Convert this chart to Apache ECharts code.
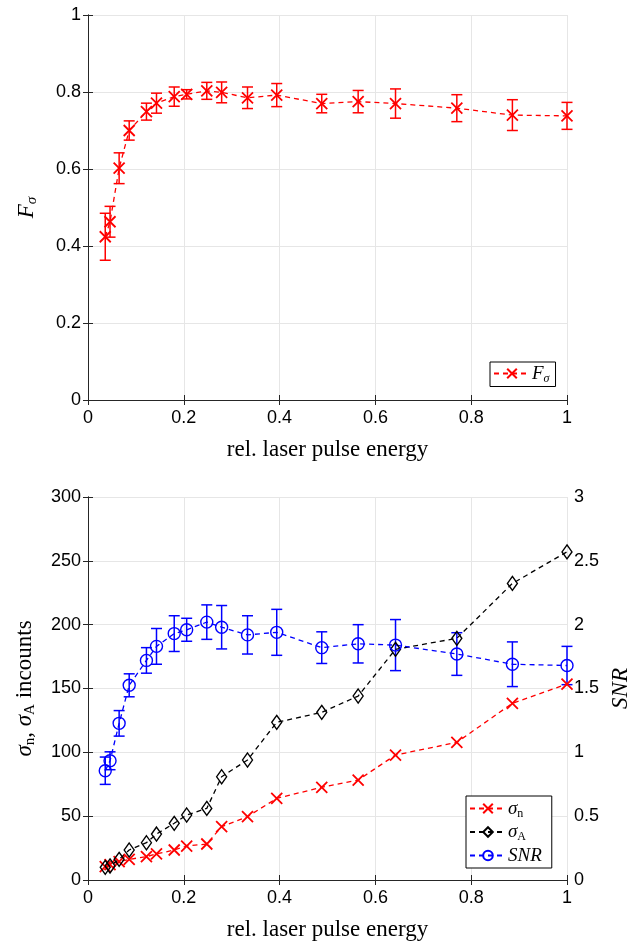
<!DOCTYPE html>
<html>
<head>
<meta charset="utf-8">
<script src="https://cdn.jsdelivr.net/npm/echarts@6/dist/echarts.min.js"></script>
<style>
  html, body { margin: 0; padding: 0; background: #fff; }
  #chart { width: 634px; height: 943px; }
</style>
</head>
<body>
<div id="chart"></div>
<script>
// relative laser pulse energy (shared by both panels)
var energy = [0.036, 0.046, 0.065, 0.086, 0.122, 0.143, 0.180, 0.206, 0.248, 0.279, 0.333, 0.394, 0.488, 0.564, 0.642, 0.770, 0.886, 1.0];

// top panel
var fSigma    = [0.424, 0.463, 0.602, 0.700, 0.749, 0.771, 0.788, 0.794, 0.803, 0.799, 0.785, 0.792, 0.770, 0.775, 0.770, 0.758, 0.740, 0.738];
var fSigmaErr = [0.061, 0.040, 0.040, 0.025, 0.022, 0.026, 0.025, 0.012, 0.022, 0.027, 0.028, 0.030, 0.024, 0.029, 0.038, 0.035, 0.040, 0.035];

// bottom panel
var sigmaN = [10.5, 12, 14.4, 16.2, 18.3, 20.4, 23.5, 26.6, 28.2, 41.8, 49.6, 64, 72.6, 78.3, 97.9, 107.8, 138.4, 153.5];
var sigmaA = [9.9, 11, 16.2, 23.5, 29.2, 36, 44.4, 50.9, 56.1, 80.9, 94, 123.5, 131.3, 144.1, 180.7, 189.3, 232.3, 257];
var snr    = [0.856, 0.934, 1.227, 1.525, 1.72, 1.83, 1.93, 1.96, 2.02, 1.98, 1.92, 1.94, 1.82, 1.85, 1.84, 1.77, 1.69, 1.68];
var snrErr = [0.107, 0.07, 0.10, 0.09, 0.10, 0.14, 0.14, 0.09, 0.135, 0.17, 0.15, 0.18, 0.124, 0.15, 0.20, 0.167, 0.175, 0.15];

var axisCol = '#262626';
var gridCol = '#e6e6e6';
var tickFont = 'Liberation Sans';
var serif = 'Liberation Serif';

var xMark = 'path://M0,0L10,10M10,0L0,10';

var rich = {
  i: { fontFamily: serif, fontStyle: 'italic', fontSize: 23, color: '#000', lineHeight: 27 },
  r: { fontFamily: serif, fontSize: 23, color: '#000', lineHeight: 27 },
  si: { fontFamily: serif, fontStyle: 'italic', fontSize: 15, color: '#000', lineHeight: 14, verticalAlign: 'bottom' },
  s: { fontFamily: serif, fontSize: 15, color: '#000', lineHeight: 14, verticalAlign: 'bottom' }
};
var legRich = {
  i: { fontFamily: serif, fontStyle: 'italic', fontSize: 19, color: '#000', lineHeight: 22 },
  si: { fontFamily: serif, fontStyle: 'italic', fontSize: 12, color: '#000', lineHeight: 11, verticalAlign: 'bottom' },
  s: { fontFamily: serif, fontSize: 12, color: '#000', lineHeight: 11, verticalAlign: 'bottom' }
};

function errData(v, e) {
  return energy.map(function (x, k) { return [x, v[k] - e[k], v[k] + e[k]]; });
}

function errBars(color) {
  return function (params, api) {
    var x = api.value(0);
    var p1 = api.coord([x, api.value(1)]);
    var p2 = api.coord([x, api.value(2)]);
    var w = 5.5;
    var st = { stroke: color, lineWidth: 1.5 };
    return {
      type: 'group',
      children: [
        { type: 'line', shape: { x1: p1[0], y1: p1[1], x2: p2[0], y2: p2[1] }, style: st },
        { type: 'line', shape: { x1: p1[0] - w, y1: p1[1], x2: p1[0] + w, y2: p1[1] }, style: st },
        { type: 'line', shape: { x1: p2[0] - w, y1: p2[1], x2: p2[0] + w, y2: p2[1] }, style: st }
      ]
    };
  };
}

function xAx(grid, pos, name) {
  return {
    type: 'value', gridIndex: grid, position: pos, min: 0, max: 1, interval: 0.2,
    axisLine: { show: true, lineStyle: { color: axisCol, width: 1 } },
    axisTick: { show: true, inside: true, length: 5, lineStyle: { color: axisCol } },
    axisLabel: { show: pos === 'bottom', color: '#000', fontFamily: tickFont, fontSize: 18, margin: 9 },
    splitLine: { show: pos === 'bottom', lineStyle: { color: gridCol } },
    name: name || '', nameLocation: 'middle', nameGap: 38,
    nameTextStyle: { fontFamily: serif, fontSize: 23, color: '#000' }
  };
}

function yAx(grid, pos, min, max, step, showLbl, split, name, gap) {
  return {
    type: 'value', gridIndex: grid, position: pos, min: min, max: max, interval: step,
    axisLine: { show: true, lineStyle: { color: axisCol, width: 1 } },
    axisTick: { show: true, inside: true, length: 5, lineStyle: { color: axisCol } },
    axisLabel: { show: showLbl, color: '#000', fontFamily: tickFont, fontSize: 18, margin: 7 },
    splitLine: { show: split, lineStyle: { color: gridCol } },
    name: name || '', nameLocation: 'middle', nameGap: gap || 0, nameRotate: 90,
    nameTextStyle: { rich: rich }
  };
}

var chart = echarts.init(document.getElementById('chart'));
chart.setOption({
  animation: false,
  backgroundColor: '#fff',
  grid: [
    { left: 88, right: 67, top: 15, bottom: 543, outerBoundsMode: 'none' },
    { left: 88, right: 67, top: 497, bottom: 63, outerBoundsMode: 'none' }
  ],
  xAxis: [
    xAx(0, 'bottom', 'rel. laser pulse energy'),
    xAx(0, 'top'),
    xAx(1, 'bottom', 'rel. laser pulse energy'),
    xAx(1, 'top')
  ],
  yAxis: [
    yAx(0, 'left', 0, 1, 0.2, true, true, '{i|F}{si|σ}', 48),
    yAx(0, 'right', 0, 1, 0.2, false, false),
    yAx(1, 'left', 0, 300, 50, true, true, '{i|σ}{s|n}{r|, }{i|σ}{s|A}{r| incounts}', 50),
    yAx(1, 'right', 0, 3, 0.5, true, false, '{i|SNR}', 38)
  ],
  legend: [
    {
      data: ['Fs'], left: 490, top: 362, orient: 'vertical',
      backgroundColor: '#fff', borderColor: '#000', borderWidth: 1,
      padding: [2, 6, 2, 3], itemWidth: 36, itemHeight: 12, itemGap: 2,
      formatter: function () { return '{i|F}{si|σ}'; },
      textStyle: { rich: legRich, padding: [0, 0, 0, -3] }
    },
    {
      data: ['sn', 'sA', 'SNR'], left: 466, top: 796, orient: 'vertical',
      backgroundColor: '#fff', borderColor: '#000', borderWidth: 1,
      padding: [3, 10, 3, 3], itemWidth: 36, itemHeight: 12, itemGap: 3,
      formatter: function (n) {
        if (n === 'sn') return '{i|σ}{s|n}';
        if (n === 'sA') return '{i|σ}{s|A}';
        return '{i|SNR}';
      },
      textStyle: { rich: legRich, padding: [0, 0, 0, -3] }
    }
  ],
  series: [
    {
      type: 'custom', xAxisIndex: 0, yAxisIndex: 0, z: 3,
      renderItem: errBars('#ff0000'), data: errData(fSigma, fSigmaErr)
    },
    {
      name: 'Fs', type: 'line', xAxisIndex: 0, yAxisIndex: 0, z: 4,
      data: energy.map(function (x, k) { return [x, fSigma[k]]; }),
      symbol: xMark, symbolSize: 11,
      lineStyle: { color: '#ff0000', type: [5, 4], width: 1.3 },
      itemStyle: { color: '#ff0000', borderColor: '#ff0000', borderWidth: 1.8 }
    },
    {
      name: 'sn', type: 'line', xAxisIndex: 2, yAxisIndex: 2, z: 4,
      data: energy.map(function (x, k) { return [x, sigmaN[k]]; }),
      symbol: xMark, symbolSize: 11,
      lineStyle: { color: '#ff0000', type: [5, 4], width: 1.3 },
      itemStyle: { color: '#ff0000', borderColor: '#ff0000', borderWidth: 1.8 }
    },
    {
      name: 'sA', type: 'line', xAxisIndex: 2, yAxisIndex: 2, z: 4,
      data: energy.map(function (x, k) { return [x, sigmaA[k]]; }),
      symbol: 'diamond', symbolSize: [10, 14],
      lineStyle: { color: '#000', type: [5, 4], width: 1.3 },
      itemStyle: { color: 'rgba(0,0,0,0)', borderColor: '#000', borderWidth: 1.4 }
    },
    {
      type: 'custom', xAxisIndex: 2, yAxisIndex: 3, z: 3,
      renderItem: errBars('#0000ff'), data: errData(snr, snrErr)
    },
    {
      name: 'SNR', type: 'line', xAxisIndex: 2, yAxisIndex: 3, z: 4,
      data: energy.map(function (x, k) { return [x, snr[k]]; }),
      symbol: 'circle', symbolSize: 12,
      lineStyle: { color: '#0000ff', type: [5, 4], width: 1.3 },
      itemStyle: { color: 'rgba(0,0,0,0)', borderColor: '#0000ff', borderWidth: 1.4 }
    }
  ]
});
</script>
</body>
</html>
